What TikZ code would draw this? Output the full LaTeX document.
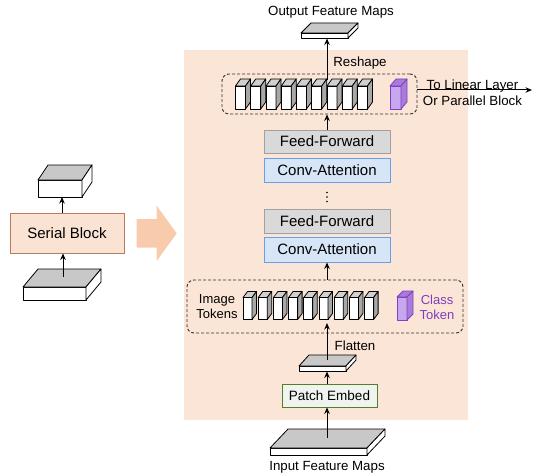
\documentclass[tikz,border=0pt]{standalone}
\usepackage{fontspec}
\setmainfont{Liberation Sans}
\usetikzlibrary{arrows.meta}
\definecolor{bgpeach}{HTML}{FBE5D6}
\definecolor{bigarrow}{HTML}{F8CBAD}
\definecolor{serialfill}{HTML}{FBE3D3}
\definecolor{serialdraw}{HTML}{B97A5E}
\definecolor{fffill}{HTML}{D9D9D9}
\definecolor{ffdraw}{HTML}{A0A0A0}
\definecolor{cafill}{HTML}{D6E6F7}
\definecolor{cadraw}{HTML}{6A9EE6}
\definecolor{pefill}{HTML}{F1F3EF}
\definecolor{pedraw}{HTML}{4F7F2F}
\definecolor{slabgray}{HTML}{C8C8C8}
\definecolor{toktop}{HTML}{D0D0D0}
\definecolor{tokside}{HTML}{A8A8A8}
\definecolor{purpfront}{HTML}{C7A8F0}
\definecolor{purptop}{HTML}{A97CDB}
\definecolor{purpdraw}{HTML}{8040C0}
\definecolor{purptext}{HTML}{7E3FBF}
\newcommand\drawcuboid[9]{%
  \draw[cubeline,fill=#7] (#1,#2) rectangle ({#1+#3},{#2+#4});
  \draw[cubeline,fill=#8] (#1,#2) -- ({#1+#5},{#2-#6}) -- ({#1+#3+#5},{#2-#6}) -- ({#1+#3},#2) -- cycle;
  \draw[cubeline,fill=#9] ({#1+#3},#2) -- ({#1+#3+#5},{#2-#6}) -- ({#1+#3+#5},{#2+#4-#6}) -- ({#1+#3},{#2+#4}) -- cycle;
}
\begin{document}
\begin{tikzpicture}[x=1pt,y=-1pt,
  cubeline/.style={draw=black,line width=0.8pt,line join=round},
  arr/.style={-{Stealth[length=6.5pt,width=5.5pt]},line width=1pt},
  blockbox/.style={rectangle,line width=0.9pt,inner sep=0pt,font=\fontsize{15}{17}\selectfont},
  dashbox/.style={draw=black!80,dash pattern=on 3pt off 2pt,rounded corners=7pt,line width=0.9pt,inner sep=0pt},
  lbl/.style={font=\fontsize{13.3}{15.5}\selectfont,inner sep=0pt,align=center}]
\useasboundingbox (0,0) rectangle (534,473);
% background panel and big arrow
\fill[bgpeach] (184,50) rectangle (468,420);
\fill[bigarrow] (136.7,219) -- (156.7,219) -- (156.7,205.7) -- (176.7,233.3) -- (156.7,261) -- (156.7,247.7) -- (136.7,247.7) -- cycle;

% ---------- left: serial block ----------
\node[blockbox,draw=serialdraw,fill=serialfill,minimum width=114pt,minimum height=40pt] (serial) at (67,233) {Serial Block};
\drawcuboid{38}{180}{44}{17}{10}{15}{white}{slabgray}{white}
\coordinate (serialout) at (62,197);
\drawcuboid{23}{287}{63}{13}{15}{18}{white}{slabgray}{white}
\coordinate (serialin) at (63,277);
\draw[arr] (serialin) -- (serial.south -| serialin);
\draw[arr] (serial.north -| serialout) -- (serialout);

% ---------- right: main column ----------
\node[lbl] (outlbl) at (331,12) {Output Feature Maps};
\drawcuboid{301}{33}{47}{5}{10}{10}{white}{slabgray}{white}
\coordinate (outslab) at (327,38.5);

\node[dashbox,minimum width=195pt,minimum height=40pt] (topbox) at (319.5,94) {};
\foreach \i in {0,...,8}{
  \drawcuboid{235.5+15.25*\i}{86}{10}{23}{5}{7}{white}{toktop}{tokside}
}
\begin{scope}[cubeline/.append style={draw=purpdraw}]
\drawcuboid{390}{86}{11}{23}{6}{7}{purpfront}{purptop}{purptop}
\end{scope}
\node[lbl] (reshape) at (360,63) {Reshape};
\coordinate (topstart) at (327,80);
\draw[arr] (topstart) -- (outslab);
\coordinate (linend) at (532,90);
\draw[arr] (topbox.east |- linend) -- (linend);
\node[lbl,font=\fontsize{13.3}{16}\selectfont] (tolinear) at (472.5,92.5) {To Linear Layer\\Or Parallel Block};

\node[blockbox,draw=ffdraw,fill=fffill,minimum width=126pt,minimum height=23pt] (ff1) at (327,141.5) {Feed-Forward};
\node[blockbox,draw=cadraw,fill=cafill,minimum width=126pt,minimum height=24pt] (ca1) at (327,170) {Conv-Attention};
\draw[arr] (ff1.north) -- (topbox.south -| ff1.north);
\foreach \yy in {192.5,197,201.5}{\fill (327,\yy) circle (0.9pt);}
\node[blockbox,draw=ffdraw,fill=fffill,minimum width=126pt,minimum height=24pt] (ff2) at (327,221) {Feed-Forward};
\node[blockbox,draw=cadraw,fill=cafill,minimum width=126pt,minimum height=25pt] (ca2) at (327,249.5) {Conv-Attention};

\node[dashbox,minimum width=276pt,minimum height=53pt] (botbox) at (325,306.5) {};
\draw[arr] (botbox.north -| ca2.south) -- (ca2.south);
\node[lbl,font=\fontsize{13}{15}\selectfont] (imgtok) at (217,307) {Image\\Tokens};
\foreach \i in {0,...,8}{
  \drawcuboid{243+15.2*\i}{297.5}{9}{22}{4.5}{6}{white}{toktop}{tokside}
}
\begin{scope}[cubeline/.append style={draw=purpdraw}]
\drawcuboid{397}{297}{10}{23}{6}{6}{purpfront}{purptop}{purptop}
\end{scope}
\node[lbl,text=purptext,font=\fontsize{13}{15}\selectfont] (clstok) at (437,307) {Class\\Token};

\drawcuboid{299}{366}{47}{5}{10}{11}{white}{slabgray}{white}
\coordinate (flatslab) at (327,360);
\coordinate (tokbottom) at (327,323);
\draw[arr] (flatslab) -- (tokbottom);
\node[lbl] (flatten) at (355,346) {Flatten};

\node[blockbox,draw=pedraw,fill=pefill,minimum width=95pt,minimum height=23pt,font=\fontsize{13.5}{16}\selectfont] (patch) at (329.5,395.5) {Patch Embed};
\coordinate (flatbot) at (327,371.5);
\draw[arr] (patch.north -| flatbot) -- (flatbot);

\drawcuboid{270}{448}{97}{7}{18}{19}{white}{slabgray}{white}
\coordinate (inslab) at (327,438);
\draw[arr] (inslab) -- (patch.south -| inslab);
\node[lbl] (inlbl) at (327,467) {Input Feature Maps};
\end{tikzpicture}
\end{document}
